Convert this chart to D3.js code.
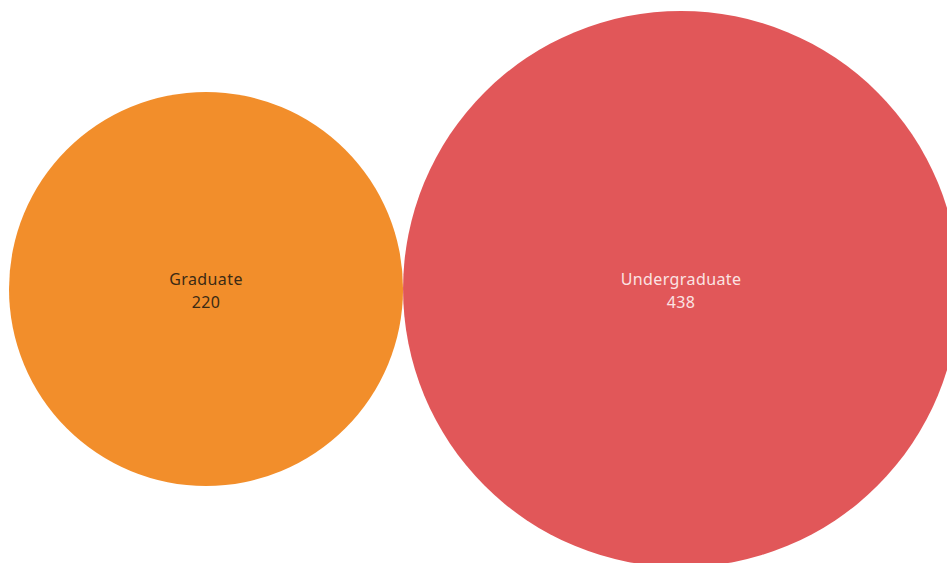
<!DOCTYPE html>
<html>
<head>
<meta charset="utf-8">
<script src="https://cdn.jsdelivr.net/npm/d3@7"></script>
<style>
  html, body { margin: 0; padding: 0; background: #ffffff; }
  svg { display: block; }
</style>
</head>
<body>
<div id="chart"></div>
<script>
// packed bubbles: one circle per level, area ~ count
const levels = ["Graduate", "Undergraduate"];
const counts = [220, 438];
const colors = ["#f28e2b", "#e15759"];
const textColors = ["#3b2a14", "#fbe3e3"];

const width = 947;
const height = 563;
const cy = 289;
const left = 9;

const r = d3.scaleSqrt().domain([0, d3.max(counts)]).range([0, 278]);

// place circles side by side, touching
const nodes = [];
let x = left;
levels.forEach((name, i) => {
  const rad = r(counts[i]);
  nodes.push({ name, value: counts[i], r: rad, cx: x + rad, color: colors[i], text: textColors[i] });
  x += rad * 2;
});

const svg = d3.select("#chart")
  .append("svg")
  .attr("width", width)
  .attr("height", height);

const g = svg.selectAll("g.bubble")
  .data(nodes)
  .join("g")
  .attr("class", "bubble")
  .attr("transform", (d) => `translate(${d.cx},${cy})`);

g.append("circle")
  .attr("r", (d) => d.r)
  .attr("fill", (d) => d.color);

const label = g.append("text")
  .attr("text-anchor", "middle")
  .attr("font-family", "'Noto Sans', 'Open Sans', sans-serif")
  .attr("font-size", 16)
  .attr("letter-spacing", 0.4)
  .attr("fill", (d) => d.text);

label.append("tspan")
  .attr("x", 0)
  .attr("y", -4)
  .text((d) => d.name);

label.append("tspan")
  .attr("x", 0)
  .attr("y", 19)
  .text((d) => d.value);
</script>
</body>
</html>
